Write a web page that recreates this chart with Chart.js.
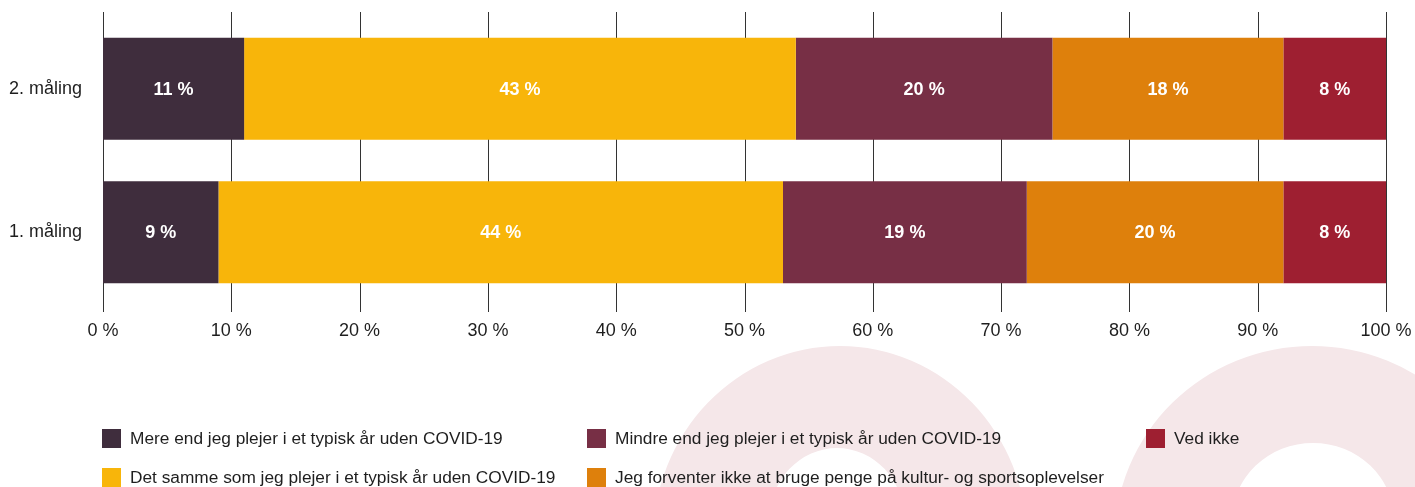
<!DOCTYPE html>
<html>
<head>
<meta charset="utf-8">
<script src="https://cdn.jsdelivr.net/npm/chart.js@4"></script>
<style>
  html, body { margin: 0; padding: 0; background: #fff; }
  #wrap { position: relative; width: 1415px; height: 487px; overflow: hidden; }
  #legend {
    position: absolute; left: 102px; top: 429px;
    display: grid; grid-template-columns: 485px 559px auto; row-gap: 20px;
    font-family: "Liberation Sans", Helvetica, Arial, sans-serif; font-size: 17.3px; color: #1e1e1e;
  }
  .item { display: flex; align-items: center; height: 19px; white-space: nowrap; }
  .box { width: 19px; height: 19px; margin-right: 9px; flex: none; }
</style>
</head>
<body>
<div id="wrap">
  <canvas id="c" width="1415" height="487"></canvas>
  <div id="legend"></div>
</div>
<script>
// Målinger og svar
const kategorier = ["2. måling", "1. måling"];
const svar = [
  "Mere end jeg plejer i et typisk år uden COVID-19",
  "Det samme som jeg plejer i et typisk år uden COVID-19",
  "Mindre end jeg plejer i et typisk år uden COVID-19",
  "Jeg forventer ikke at bruge penge på kultur- og sportsoplevelser",
  "Ved ikke"
];
// procent pr. svar: [2. måling, 1. måling]
const mere = [11, 9];
const samme = [43, 44];
const mindre = [20, 19];
const ingen = [18, 20];
const vedIkke = [8, 8];
const farver = ["#3f2d3d", "#f8b50a", "#772f45", "#de800c", "#9e1f31"];
const xTicks = [0, 10, 20, 30, 40, 50, 60, 70, 80, 90, 100];

const serier = [mere, samme, mindre, ingen, vedIkke];
const FONT = '"Liberation Sans", Helvetica, Arial, sans-serif';

// lyserøde baggrundsringe
const baggrund = {
  id: 'baggrund',
  beforeDraw(chart) {
    const ctx = chart.ctx;
    ctx.save();
    ctx.fillStyle = '#f5e7e9';
    const ringe = [
      [840, 540, 187, 194, 837, 520, 67.5, 72],
      [1312, 540, 197.5, 194, 1313, 520, 81, 77]
    ];
    ringe.forEach(r => {
      ctx.beginPath();
      ctx.ellipse(r[0], r[1], r[2], r[3], 0, 0, Math.PI * 2);
      ctx.ellipse(r[4], r[5], r[6], r[7], 0, 0, Math.PI * 2);
      ctx.fill('evenodd');
    });
    ctx.restore();
  }
};

// lodrette linjer fra x-aksen
const linjer = {
  id: 'linjer',
  beforeDatasetsDraw(chart) {
    const ctx = chart.ctx, x = chart.scales.x;
    ctx.save();
    ctx.strokeStyle = '#333';
    ctx.lineWidth = 1;
    x.ticks.forEach(t => {
      const px = Math.round(x.getPixelForValue(t.value)) + 0.5;
      ctx.beginPath();
      ctx.moveTo(px, 12);
      ctx.lineTo(px, 312);
      ctx.stroke();
    });
    ctx.restore();
  }
};

// værdier inde i søjlerne
const etiketter = {
  id: 'etiketter',
  afterDatasetsDraw(chart) {
    const ctx = chart.ctx;
    ctx.save();
    ctx.fillStyle = '#fff';
    ctx.font = 'bold 18px ' + FONT;
    ctx.textAlign = 'center';
    ctx.textBaseline = 'middle';
    chart.data.datasets.forEach((ds, i) => {
      chart.getDatasetMeta(i).data.forEach((bar, j) => {
        const p = bar.getProps(['x', 'base', 'y']);
        ctx.fillText(ds.data[j] + ' %', (p.x + p.base) / 2, p.y + 1);
      });
    });
    ctx.restore();
  }
};

const chart = new Chart(document.getElementById('c'), {
  type: 'bar',
  data: {
    labels: kategorier,
    datasets: serier.map((d, i) => ({
      label: svar[i],
      data: d,
      backgroundColor: farver[i],
      borderWidth: 0,
      categoryPercentage: 1,
      barPercentage: 0.71
    }))
  },
  options: {
    indexAxis: 'y',
    responsive: false,
    animation: false,
    layout: { padding: { top: 17, right: 29, left: 0, bottom: 0 } },
    plugins: { legend: { display: false }, tooltip: { enabled: false } },
    scales: {
      x: {
        stacked: true, min: 0, max: 100,
        afterBuildTicks: s => { s.ticks = xTicks.map(v => ({ value: v })); },
        afterFit: s => { s.height = 183; s.paddingLeft = 0; s.paddingRight = 0; },
        grid: { display: false },
        border: { display: false },
        ticks: {
          padding: 8, color: '#1e1e1e', font: { family: FONT, size: 18 },
          callback: v => v + ' %'
        }
      },
      y: {
        stacked: true,
        afterFit: s => { s.width = 103; s.paddingTop = 0; s.paddingBottom = 0; },
        grid: { display: false },
        border: { display: false },
        ticks: { padding: 13, color: '#1e1e1e', font: { family: FONT, size: 18 } }
      }
    }
  },
  plugins: [baggrund, linjer, etiketter]
});

// forklaring i tre kolonner
const rækkefølge = [0, 2, 4, 1, 3];
const legend = document.getElementById('legend');
rækkefølge.forEach(i => {
  const el = document.createElement('div');
  el.className = 'item';
  el.innerHTML = `<span class="box" style="background:${farver[i]}"></span><span>${svar[i]}</span>`;
  legend.appendChild(el);
});
</script>
</body>
</html>
